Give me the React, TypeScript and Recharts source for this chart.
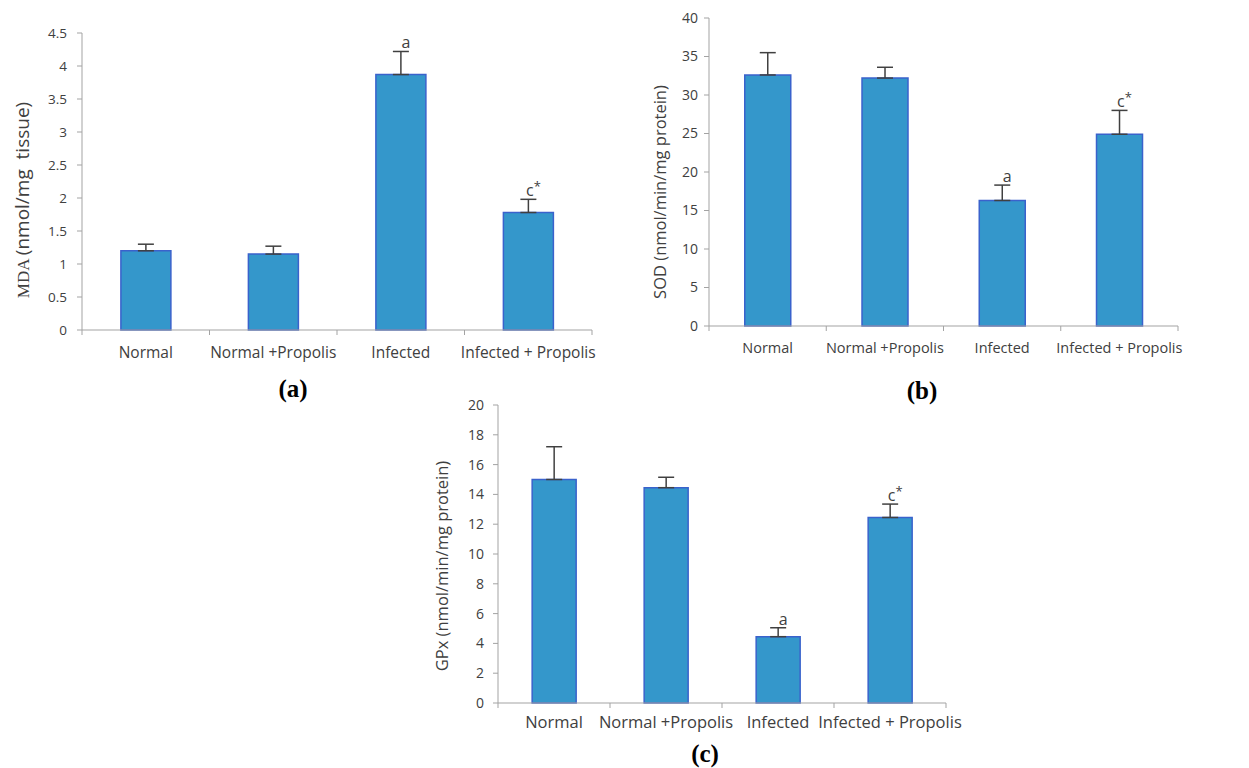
import { Bar, BarChart, ErrorBar, LabelList, XAxis, YAxis } from "recharts";

const groups = ["Normal", "Normal +Propolis", "Infected", "Infected + Propolis"];
const marks = ["", "", "a", "c*"];

const mdaMean = [1.2, 1.15, 3.87, 1.78];
const mdaErr = [0.1, 0.12, 0.35, 0.2];
const mdaTicks = [0, 0.5, 1, 1.5, 2, 2.5, 3, 3.5, 4, 4.5];

const sodMean = [32.6, 32.2, 16.3, 24.9];
const sodErr = [2.9, 1.4, 2.0, 3.1];
const sodTicks = [0, 5, 10, 15, 20, 25, 30, 35, 40];

const gpxMean = [15.0, 14.45, 4.45, 12.45];
const gpxErr = [2.2, 0.7, 0.6, 0.9];
const gpxTicks = [0, 2, 4, 6, 8, 10, 12, 14, 16, 18, 20];

const FILL = "#3497cb";
const EDGE = "#3a62cc";
const AXIS = "#a3a3a3";
const INK = "#404040";
const SANS = "'Open Sans', 'Noto Sans', sans-serif";
const SERIF = "'Liberation Serif', 'DejaVu Serif', serif";

const rows = (mean: number[], err: number[]) =>
  groups.map((g, i) => ({ group: g, mean: mean[i], err: [0, err[i]], mark: marks[i] }));

function CatTick({ x, y, payload, index, band, font, dy }: any) {
  const half = band / 2;
  return (
    <g>
      <line x1={x - half} x2={x - half} y1={y} y2={y + 5} stroke={AXIS} />
      {index === groups.length - 1 && <line x1={x + half} x2={x + half} y1={y} y2={y + 5} stroke={AXIS} />}
      <text x={x} y={y + dy} textAnchor="middle" fontSize={font} fill={INK} fontFamily={SANS}>
        {payload.value}
      </text>
    </g>
  );
}

function Mark({ x, y, width, height, value, index, mean, err }: any) {
  if (!value) return null;
  const errPx = (err[index] * height) / mean[index];
  const cx = x + width / 2 + 5;
  const top = y - errPx - 3;
  const [base, sup] = [value.slice(0, 1), value.slice(1)];
  return (
    <text x={cx} y={top} textAnchor="middle" fontSize={16} fill={INK} fontFamily={SANS}>
      {base}
      {sup && <tspan dy={-5} fontSize={13}>{sup}</tspan>}
    </text>
  );
}

interface Box { x0: number; x1: number; y0: number; y1: number }

function Panel({ mean, err, ticks, box, catFont, catDy, tickFont, tickGap }: {
  mean: number[]; err: number[]; ticks: number[]; box: Box;
  catFont: number; catDy: number; tickFont: number; tickGap: number;
}) {
  const padL = 70, padT = 20, padR = 40, padB = 50;
  const w = box.x1 - box.x0 + padL + padR;
  const h = box.y1 - box.y0 + padT + padB;
  const band = (box.x1 - box.x0) / groups.length;
  return (
    <div style={{ position: "absolute", left: box.x0 - padL, top: box.y0 - padT }}>
      <BarChart width={w} height={h} data={rows(mean, err)}
        margin={{ top: padT, right: padR, bottom: 0, left: 0 }} barCategoryGap="30.5%">
        <XAxis dataKey="group" height={padB} interval={0} axisLine={{ stroke: AXIS }}
          tickLine={false} tickSize={0} tickMargin={0}
          tick={(p: any) => <CatTick {...p} band={band} font={catFont} dy={catDy} />} />
        <YAxis width={padL} type="number" domain={[ticks[0], ticks[ticks.length - 1]]} ticks={ticks}
          interval={0} axisLine={{ stroke: AXIS }} tickLine={{ stroke: AXIS }} tickSize={5} tickMargin={tickGap}
          tick={{ fill: INK, fontSize: tickFont, fontFamily: SANS }} />
        <Bar dataKey="mean" fill={FILL} stroke={EDGE} strokeWidth={1.5} isAnimationActive={false}>
          <ErrorBar dataKey="err" direction="y" width={8} stroke={INK} strokeWidth={1.5} />
          <LabelList dataKey="mark" content={(p: any) => <Mark {...p} mean={mean} err={err} />} />
        </Bar>
      </BarChart>
    </div>
  );
}

function AxisTitle({ cx, cy, children }: { cx: number; cy: number; children: any }) {
  return (
    <div style={{
      position: "absolute", left: cx, top: cy, whiteSpace: "nowrap", color: INK,
      transform: "translate(-50%, -50%) rotate(-90deg)", lineHeight: 1,
    }}>
      {children}
    </div>
  );
}

function Caption({ cx, cy, text }: { cx: number; cy: number; text: string }) {
  return (
    <div style={{
      position: "absolute", left: cx, top: cy, transform: "translate(-50%, -50%)",
      fontFamily: SERIF, fontWeight: "bold", fontSize: 25, color: "#000", lineHeight: 1,
    }}>
      {text}
    </div>
  );
}

export default function App() {
  return (
    <div style={{ position: "absolute", left: 0, top: 0, width: 1249, height: 768, background: "#fff", overflow: "hidden" }}>
      <Panel mean={mdaMean} err={mdaErr} ticks={mdaTicks} box={{ x0: 82, x1: 592, y0: 33, y1: 330 }}
        catFont={15.5} catDy={28} tickFont={13.5} tickGap={10} />
      <Panel mean={sodMean} err={sodErr} ticks={sodTicks} box={{ x0: 709, x1: 1178, y0: 18, y1: 326 }}
        catFont={14.5} catDy={27} tickFont={14} tickGap={6} />
      <Panel mean={gpxMean} err={gpxErr} ticks={gpxTicks} box={{ x0: 498, x1: 946, y0: 405, y1: 703 }}
        catFont={16.5} catDy={25} tickFont={14} tickGap={9} />

      <AxisTitle cx={22} cy={200}>
        <span style={{ fontFamily: SERIF, fontSize: 17 }}>MDA </span>
        <span style={{ fontFamily: SANS, fontSize: 19 }}>(nmol/mg&nbsp; tissue)</span>
      </AxisTitle>
      <AxisTitle cx={660} cy={192}>
        <span style={{ fontFamily: SANS, fontSize: 16.5 }}>SOD (nmol/min/mg protein)</span>
      </AxisTitle>
      <AxisTitle cx={442} cy={566}>
        <span style={{ fontFamily: SANS, fontSize: 16.5 }}>GPx (nmol/min/mg protein)</span>
      </AxisTitle>

      <Caption cx={293} cy={388} text="(a)" />
      <Caption cx={922} cy={390} text="(b)" />
      <Caption cx={705} cy={753} text="(c)" />
    </div>
  );
}
